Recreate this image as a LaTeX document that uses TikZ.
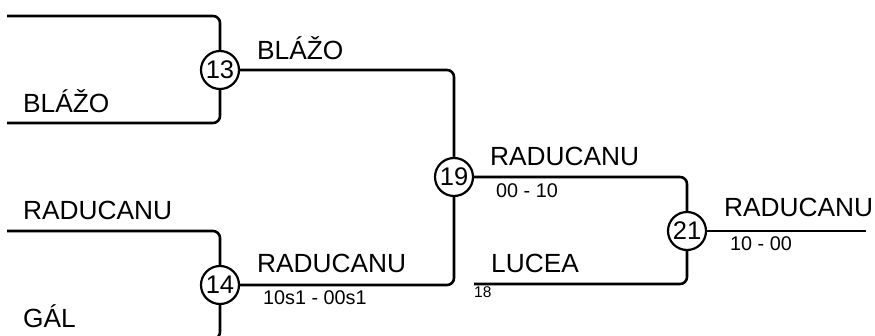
\documentclass[tikz,border=0pt]{standalone}
\usepackage{fontspec}
\setmainfont{Liberation Sans}
\begin{document}
\begin{tikzpicture}[x=1pt,y=-1pt,
  wire/.style={line width=2.6pt,rounded corners=7pt},
  matchnode/.style={circle,draw,line width=2.2pt,minimum size=38pt,inner sep=0pt,font=\fontsize{25.5}{26}\selectfont,fill=white},
  pname/.style={anchor=base west,inner sep=0pt,font=\fontsize{26.3}{27}\selectfont},
  pscore/.style={anchor=base west,inner sep=0pt,font=\fontsize{19.8}{20}\selectfont},
  pseed/.style={anchor=base west,inner sep=0pt,font=\fontsize{15.5}{16}\selectfont}]
\useasboundingbox (0,0) rectangle (875,336);
% coordinates
\coordinate (a1) at (7,16);
\coordinate (a2) at (7,123);
\coordinate (b1) at (7,231);
\coordinate (b2) at (7,339);
\coordinate (l1) at (474,284);
\coordinate (fin) at (866,231);
% wires first
\draw[wire] (a1) -- (220,16) -- (220,123) -- (a2);
\draw[wire] (b1) -- (220,231) -- (220,339) -- (b2);
\draw[wire] (220,70) -- (454,70) -- (454,285) -- (220,285);
\draw[wire] (454,177) -- (687,177) -- (687,284) -- (l1);
\draw[wire] (687,231) -- (fin);
% match nodes
\node[matchnode] (m13) at (220,70) {13};
\node[matchnode] (m14) at (220,285) {14};
\node[matchnode] (m19) at (454,177) {19};
\node[matchnode] (m21) at (687,231) {21};
% labels
\node[pname] (t1) at (257,60) {BLÁŽO};
\node[pname] (t2) at (23,113) {BLÁŽO};
\node[pname] (t3) at (23,220) {RADUCANU};
\node[pname] (t4) at (257,273) {RADUCANU};
\node[pscore] (s4) at (263,305) {10s1 - 00s1};
\node[pname] (t5) at (23,328) {GÁL};
\node[pname] (t6) at (490,166) {RADUCANU};
\node[pscore] (s6) at (496,198) {00 - 10};
\node[pname] (t7) at (491,273) {LUCEA};
\node[pseed] (sd) at (474,298) {18};
\node[pname] (t8) at (724,217) {RADUCANU};
\node[pscore] (s8) at (730,251) {10 - 00};
\end{tikzpicture}
\end{document}
